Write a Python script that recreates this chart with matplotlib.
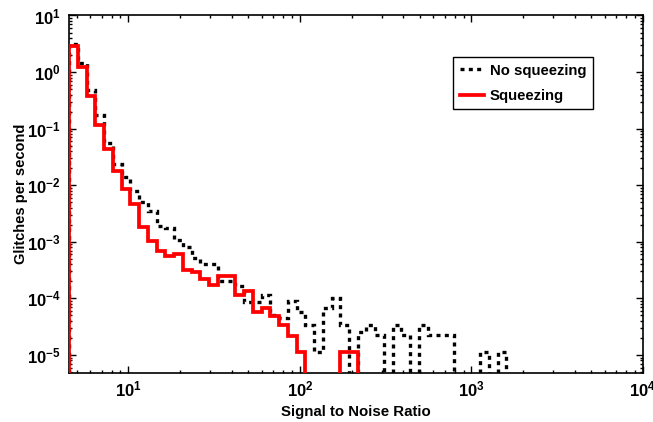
import numpy as np
import matplotlib
matplotlib.use('Agg')
import matplotlib.pyplot as plt
from matplotlib.lines import Line2D

plt.rcParams['font.family'] = ['Liberation Sans', 'DejaVu Sans']
plt.rcParams['font.weight'] = 'bold'
plt.rcParams['mathtext.fontset'] = 'custom'
plt.rcParams['mathtext.rm'] = 'Liberation Sans:bold'
plt.rcParams['mathtext.bf'] = 'Liberation Sans:bold'
plt.rcParams['mathtext.it'] = 'Liberation Sans:bold'

# SNR bin edges (log spaced histogram bins)
bin_edges = [4.512, 5.075, 5.707, 6.418, 7.218, 8.118, 9.129, 10.27, 11.55, 12.98,
             14.60, 16.42, 18.47, 20.77, 23.36, 26.27, 29.54, 33.22, 37.36, 42.02,
             47.25, 53.14, 59.76, 67.21, 75.58, 85.00, 95.59, 107.5, 120.9, 135.9,
             152.9, 171.9, 193.3, 217.4, 244.5, 274.9, 309.2, 347.7, 391.0, 439.7,
             494.5, 556.1, 625.4, 703.1, 790.7, 889.2, 1000.0, 1125.0, 1265.0, 1422.0,
             1600.0]

# glitch rates per bin (glitches / second)
no_squeezing = [3.17, 1.47, 0.49, 0.172, 0.056, 0.0242, 0.0141, 0.0080, 0.0051, 0.0035,
                0.0019, 0.00173, 0.00108, 0.00081, 0.00051, 0.00041, 0.00040, 2.07e-4, 2.07e-4, 1.66e-4,
                8.5e-5, 8.5e-5, 1.13e-4, 5.0e-5, 4.6e-5, 9.1e-5, 5.7e-5, 3.4e-5, 1.13e-5, 6.8e-5,
                1.03e-4, 3.4e-5, 0, 2.6e-5, 3.4e-5, 2.26e-5, 0, 3.4e-5, 2.26e-5, 0,
                3.4e-5, 2.26e-5, 2.26e-5, 2.26e-5, 0, 0, 0, 1.13e-5, 0, 1.13e-5]

squeezing = [2.84, 1.22, 0.373, 0.118, 0.0433, 0.0180, 0.00853, 0.00464, 0.00185, 0.00105,
             6.97e-4, 5.6e-4, 6.1e-4, 3.18e-4, 2.93e-4, 2.23e-4, 1.73e-4, 2.52e-4, 2.52e-4, 1.15e-4,
             1.36e-4, 5.7e-5, 6.9e-5, 4.8e-5, 3.41e-5, 2.21e-5, 1.15e-5, 0, 0, 0,
             0, 1.15e-5, 1.15e-5, 0, 0, 0, 0, 0, 0, 0,
             0, 0, 0, 0, 0, 0, 0, 0, 0, 0]

floor = 1e-9

fig = plt.figure(figsize=(6.53, 4.22), dpi=100)
ax = fig.add_axes([0.1057, 0.116, 0.879, 0.8473])

black_vals = np.where(np.array(no_squeezing) > 0, no_squeezing, floor)
red_vals = np.where(np.array(squeezing) > 0, squeezing, floor)

ax.stairs(black_vals, bin_edges, baseline=floor, color='black', linewidth=2.4,
          linestyle=(0, (1.2, 1.3)), zorder=2)
ax.stairs(red_vals, bin_edges, baseline=floor, color='#ff0000', linewidth=2.7, zorder=3)

ax.set_xscale('log')
ax.set_yscale('log')
ax.set_xlim(4.512, 1e4)
ax.set_ylim(4.8e-6, 10)

ax.set_xticks([1e1, 1e2, 1e3, 1e4])
ax.set_xticklabels([r'$10^{1}$', r'$10^{2}$', r'$10^{3}$', r'$10^{4}$'])
ax.set_yticks([1e-5, 1e-4, 1e-3, 1e-2, 1e-1, 1e0, 1e1])
ax.set_yticklabels([r'$10^{-5}$', r'$10^{-4}$', r'$10^{-3}$', r'$10^{-2}$',
                    r'$10^{-1}$', r'$10^{0}$', r'$10^{1}$'])

ax.tick_params(which='both', direction='in', top=True, right=True, width=1)
ax.tick_params(which='major', length=5, labelsize=12)
ax.tick_params(axis='x', which='major', pad=5)
ax.tick_params(axis='y', which='major', pad=6)
ax.tick_params(which='minor', length=2.5)
for s in ax.spines.values():
    s.set_linewidth(1.2)

ax.set_xlabel('Signal to Noise Ratio', fontsize=10.8, fontweight='bold')
ax.set_ylabel('Glitches per second', fontsize=10.5, fontweight='bold')
ax.xaxis.set_label_coords(0.5, -0.088)
ax.yaxis.set_label_coords(-0.072, 0.5)

handles = [Line2D([], [], color='black', linewidth=2.4, linestyle=(0, (1.2, 1.3))),
           Line2D([], [], color='#ff0000', linewidth=2.7)]
leg = ax.legend(handles, ['No squeezing', 'Squeezing'], loc='upper right',
                bbox_to_anchor=(0.913, 0.884), borderaxespad=0, fancybox=False,
                framealpha=1, edgecolor='black', handlelength=1.6, handletextpad=0.4,
                labelspacing=0.75, borderpad=0.45,
                prop={'size': 10.7, 'weight': 'bold'})
leg.get_frame().set_linewidth(1.0)

plt.savefig('out.png', dpi=100)
plt.close()
